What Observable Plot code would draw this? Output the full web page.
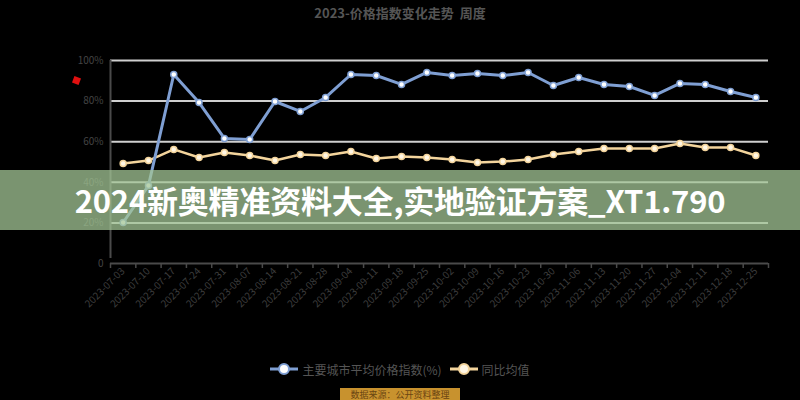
<!DOCTYPE html>
<html>
<head>
<meta charset="utf-8">
<script src="https://cdn.jsdelivr.net/npm/d3@7"></script>
<script src="https://cdn.jsdelivr.net/npm/@observablehq/plot@0.6"></script>
<style>
  html, body { margin: 0; padding: 0; background: #000; }
  body { width: 800px; height: 400px; overflow: hidden; position: relative; font-family: "Noto Sans CJK SC", "Noto Sans", sans-serif; }
  #title { height: 28px; line-height: 26px; text-align: center; font-size: 13px; font-weight: bold; color: #555; }
  #chart svg { display: block; }
  #legend { position: absolute; left: 0; top: 358px; width: 800px; height: 22px; display: flex; justify-content: center; align-items: center; font-size: 12px; color: #555; gap: 8px; }
  .item { display: flex; align-items: center; gap: 4px; }
  #source { position: absolute; left: 340px; top: 388px; width: 120px; height: 14px; background: #c8922e; color: #6a4512; font-size: 9px; line-height: 14px; text-align: center; }
  #banner { position: absolute; left: 0; top: 170px; width: 800px; height: 60px; background: rgba(163,197,149,0.75); color: #fff; font-weight: bold; font-size: 31px; line-height: 60px; text-align: center; letter-spacing: -0.2px; }
  #mark { position: absolute; left: 73px; top: 77px; width: 7px; height: 7px; background: #e01010; transform: rotate(20deg); }
</style>
</head>
<body>
<div id="title">2023-价格指数变化走势&nbsp;&nbsp;周度</div>
<div id="chart"></div>
<div id="legend"></div>
<div id="source">数据来源：公开资料整理</div>
<div id="mark"></div>
<div id="banner">2024新奥精准资料大全,实地验证方案_XT1.790</div>
<script>
const dates = [
  "2023-07-03","2023-07-10","2023-07-17","2023-07-24","2023-07-31","2023-08-07",
  "2023-08-14","2023-08-21","2023-08-28","2023-09-04","2023-09-11","2023-09-18",
  "2023-09-25","2023-10-02","2023-10-09","2023-10-16","2023-10-23","2023-10-30",
  "2023-11-06","2023-11-13","2023-11-20","2023-11-27","2023-12-04","2023-12-11",
  "2023-12-18","2023-12-25"
];
const seriesA = [20.2,38.4,93.1,79.3,61.6,61.1,79.8,74.9,81.8,93.1,92.6,88.2,94.1,92.6,93.6,92.6,94.1,87.7,91.6,88.2,87.2,82.8,88.7,88.2,84.7,81.8];
const seriesB = [49.3,50.7,56.2,52.2,54.7,53.2,50.7,53.7,53.2,55.2,51.7,52.7,52.2,51.2,49.8,50.2,51.2,53.7,55.2,56.7,56.7,56.7,59.1,57.1,57.1,53.2];
const yTicks = [0,20,40,60,80,100];
const nameA = "主要城市平均价格指数(%)";
const nameB = "同比均值";
const colorA = "#7f9fd3";
const colorB = "#f3d49c";

const rowsA = dates.map((d, i) => ({date: d, value: seriesA[i]}));
const rowsB = dates.map((d, i) => ({date: d, value: seriesB[i]}));

const W = 800, ML = 110, MR = 32;
const half = (W - ML - MR) / dates.length / 2;

const chart = Plot.plot({
  width: W,
  height: 300,
  marginTop: 32,
  marginBottom: 65,
  marginLeft: ML,
  marginRight: MR,
  style: {background: "transparent", fontFamily: "'Noto Sans CJK SC', 'Noto Sans', sans-serif"},
  x: {type: "point", domain: dates, padding: 0.5, round: false, label: null},
  y: {domain: [0, 100], label: null},
  marks: [
    Plot.ruleY(yTicks.filter(d => d > 0), {stroke: "#cfcfcf", strokeWidth: 2}),
    Plot.axisY({ticks: yTicks, tickSize: 0, tickPadding: 7, tickFormat: d => d === 0 ? "0" : d + "%", fill: "#444", fontSize: 10, label: null}),
    Plot.axisX({tickSize: 0, tickRotate: -45, tickPadding: 6, fill: "#3c3c3c", fontSize: 10, label: null}),
    Plot.axisX({tickSize: 5, tickFormat: () => "", dx: -half, stroke: "#4a4a4a", strokeWidth: 1.5, label: null}),
    Plot.axisX({ticks: [dates[dates.length - 1]], tickSize: 5, tickFormat: () => "", dx: half, stroke: "#4a4a4a", strokeWidth: 1.5, label: null}),
    Plot.ruleY([0], {stroke: "#4a4a4a", strokeWidth: 2}),
    Plot.ruleX([dates[0]], {dx: -half, y1: 0, y2: 100, insetTop: -5, stroke: "#4a4a4a", strokeWidth: 2}),
    Plot.line(rowsB, {x: "date", y: "value", stroke: colorB, strokeWidth: 2.5}),
    Plot.dot(rowsB, {x: "date", y: "value", r: 3, fill: "#fff7e6", stroke: colorB, strokeWidth: 1.5}),
    Plot.line(rowsA, {x: "date", y: "value", stroke: colorA, strokeWidth: 3}),
    Plot.dot(rowsA, {x: "date", y: "value", r: 3, fill: "#ffffff", stroke: colorA, strokeWidth: 1.5})
  ]
});
document.getElementById("chart").appendChild(chart);

const legend = document.getElementById("legend");
[[nameA, colorA, "#ffffff"], [nameB, colorB, "#fff7e6"]].forEach(([name, c, f]) => {
  const item = document.createElement("div");
  item.className = "item";
  item.innerHTML = `<svg width="28" height="14"><line x1="0" y1="7" x2="28" y2="7" stroke="${c}" stroke-width="3"/><circle cx="14" cy="7" r="5" fill="${f}" stroke="${c}" stroke-width="2"/></svg><span>${name}</span>`;
  legend.appendChild(item);
});
</script>
</body>
</html>
